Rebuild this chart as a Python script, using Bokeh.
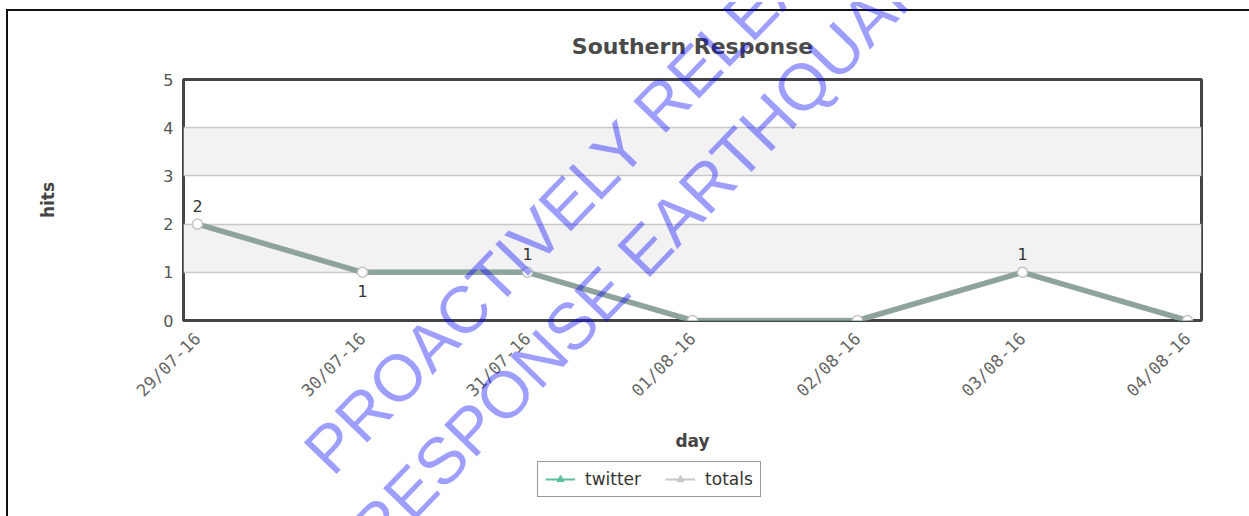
import math
from bokeh.plotting import figure
from bokeh.layouts import column
from bokeh.models import (ColumnDataSource, FixedTicker, Legend, LegendItem,
                          Range1d, Div)
from bokeh.core.properties import value
from bokeh.embed import file_html
from bokeh.resources import INLINE

# ---- data ----
days = ["29/07-16", "30/07-16", "31/07-16", "01/08-16", "02/08-16", "03/08-16", "04/08-16"]
twitter = [2, 1, 1, 0, 0, 1, 0]
totals = [2, 1, 1, 0, 0, 1, 0]
y_ticks = [0, 1, 2, 3, 4, 5]
series_names = ["twitter", "totals"]
title_text = "Southern Response"
x_label = "day"
y_label = "hits"
watermark_lines = ["PROACTIVELY RELEASED BY SOUTHERN", "RESPONSE EARTHQUAKE SERVICES"]

xs = list(range(len(days)))
src = ColumnDataSource(dict(x=xs, twitter=twitter, totals=totals))

# data labels (zero values are not labelled; label goes below when the line comes down into the point)
lx, ly, lt, loff = [], [], [], []
for i, v in enumerate(totals):
    if v > 0:
        below = i > 0 and totals[i - 1] > v
        lx.append(i)
        ly.append(v)
        lt.append(str(v))
        loff.append(19 if below else -18)
lab_src = ColumnDataSource(dict(x=lx, y=ly, t=lt, off=loff))

FONT = "DejaVu Sans"
TW = "#5cbf9e"
TO = "#9c9c9c"
CANVAS_W = 1241

# ---- main chart ----
p = figure(width=CANVAS_W, frame_width=1018, frame_height=241,
           x_range=Range1d(-0.085, len(days) - 1 + 0.085),
           y_range=Range1d(y_ticks[0], y_ticks[-1]),
           output_backend="svg", toolbar_location=None,
           min_border_left=175, min_border_right=48,
           min_border_top=68, min_border_bottom=140,
           title=title_text)

p.title.align = "center"
p.title.text_font = FONT
p.title.text_font_size = "22px"
p.title.text_font_style = "bold"
p.title.text_color = "#4a4a4a"
p.title.standoff = 41

p.outline_line_color = "#444444"
p.outline_line_width = 3
p.background_fill_color = "white"

p.xgrid.grid_line_color = None
p.ygrid.ticker = FixedTicker(ticks=y_ticks[1:])
p.ygrid.grid_line_color = "#c8c8c8"
p.ygrid.grid_line_width = 1.5
p.ygrid.band_fill_color = "#f2f2f2"
p.ygrid.band_fill_alpha = 1.0

p.xaxis.ticker = FixedTicker(ticks=xs)
p.xaxis.major_label_overrides = {i: d for i, d in enumerate(days)}
p.xaxis.major_label_orientation = math.pi / 4
p.xaxis.major_label_text_font = "DejaVu Sans Mono"
p.xaxis.major_label_text_font_size = "17px"
p.xaxis.major_label_text_color = "#666666"
p.xaxis.major_label_standoff = 9
p.xaxis.axis_label = x_label
p.xaxis.axis_label_text_font = FONT
p.xaxis.axis_label_text_font_style = "bold"
p.xaxis.axis_label_text_font_size = "17px"
p.xaxis.axis_label_text_color = "#444444"
p.xaxis.axis_label_standoff = 20

p.yaxis.ticker = FixedTicker(ticks=y_ticks)
p.yaxis.major_label_text_font = FONT
p.yaxis.major_label_text_font_size = "16px"
p.yaxis.major_label_text_color = "#555555"
p.yaxis.major_label_standoff = 4
p.yaxis.axis_label = y_label
p.yaxis.axis_label_text_font = FONT
p.yaxis.axis_label_text_font_style = "bold"
p.yaxis.axis_label_text_font_size = "17px"
p.yaxis.axis_label_text_color = "#444444"
p.yaxis.axis_label_standoff = 102

for ax in (p.xaxis[0], p.yaxis[0]):
    ax.axis_line_color = None
    ax.major_tick_line_color = None
    ax.minor_tick_line_color = None

p.line("x", "twitter", source=src, line_color=TW, line_width=5)
p.line("x", "totals", source=src, line_color=TO, line_width=5.5, line_alpha=0.8)
p.scatter("x", "totals", source=src, marker="circle", size=10,
          fill_color="white", line_color="#c4c4c4", line_width=1.5)
p.text("x", "y", text="t", source=lab_src, y_offset="off",
       text_align="center", text_baseline="middle",
       text_font=value(FONT), text_font_size="16px", text_color="#333333")

# ---- legend strip (its series renderers sit outside its visible ranges) ----
lg = figure(width=CANVAS_W, height=55, x_range=Range1d(-30, -20), y_range=Range1d(-30, -20),
            output_backend="svg", toolbar_location=None,
            x_axis_location=None, y_axis_location=None, min_border=0)
lg.outline_line_color = None
lg.xgrid.grid_line_color = None
lg.ygrid.grid_line_color = None
items = []
for name, col in zip(series_names, [TW, "#c8c8c8"]):
    r1 = lg.line("x", name, source=src, line_color=col, line_width=2)
    r2 = lg.scatter("x", name, source=src, marker="triangle", size=7, fill_color=col, line_color=col)
    items.append(LegendItem(label=name, renderers=[r1, r2], index=0))
legend = Legend(items=items, orientation="horizontal", location=(354, 18),
                label_text_font=FONT, label_text_font_size="17px", label_text_color="#333333",
                border_line_color="#333333", border_line_width=1.5,
                background_fill_color="white", background_fill_alpha=1,
                padding=7, spacing=24, glyph_width=30, glyph_height=18,
                label_standoff=10, margin=0)
lg.add_layout(legend, "center")

# ---- watermark overlay ----
spans = ""
for i, txt in enumerate(watermark_lines):
    left = 327 + 46 * i
    top = 392 + 80 * i
    spans += ('<div style="position:absolute;left:%dpx;top:%dpx;height:66px;line-height:66px;'
              'white-space:nowrap;transform-origin:0 100%%;transform:rotate(-46deg);'
              'font-family:\'Liberation Sans\';font-size:66px;color:rgba(0,0,255,0.38);">%s</div>'
              % (left, top, txt))
wm_html = ('<div style="position:relative;width:0;height:0;">'
           '<div style="position:absolute;left:0;bottom:0;width:%dpx;height:530px;overflow:hidden;'
           'pointer-events:none;z-index:10;"><div style="position:absolute;left:0;bottom:0;'
           'width:%dpx;height:505px;">%s</div></div></div>' % (CANVAS_W, CANVAS_W, spans))
wm = Div(text=wm_html, width=1, height=1)

layout = column(p, lg, wm, spacing=0,
                styles={"margin-left": "6px", "margin-top": "9px",
                        "border-left": "2px solid #111", "border-top": "2px solid #111"})

open("out.html", "w").write(file_html(layout, INLINE))
